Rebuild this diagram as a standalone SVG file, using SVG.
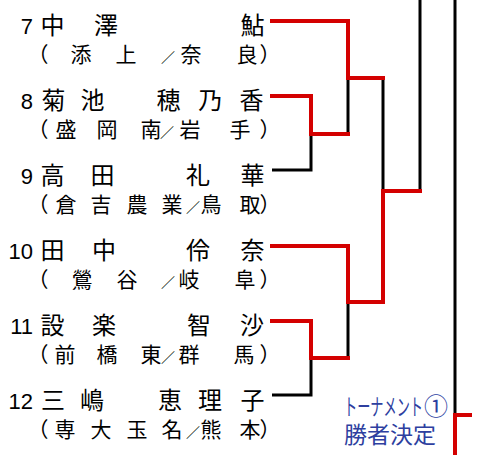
<svg xmlns="http://www.w3.org/2000/svg" width="480" height="455" viewBox="0 0 480 455">
<style>
.num{font-family:"Liberation Sans",Arial,sans-serif;font-size:22px;fill:#000;text-anchor:end}
.nm{font-family:"Noto Sans CJK JP","Noto Sans CJK SC",sans-serif;font-size:24px;fill:#000;text-anchor:middle}
.sc{font-family:"Noto Sans CJK JP","Noto Sans CJK SC",sans-serif;font-size:21px;fill:#000;text-anchor:middle}
.sl{font-size:14px}
.note{font-family:"Noto Sans CJK JP","Noto Sans CJK SC",sans-serif;font-size:23px;fill:#2e3f9f}
.w{fill:none;stroke:#d40000;stroke-width:4;stroke-linejoin:miter;stroke-linecap:square}
.l{fill:none;stroke:#000;stroke-width:3;stroke-linecap:butt}
</style>
<rect width="480" height="455" fill="#fff"/>
<g id="connectors">
<path class="l" d="M420,0 V191"/>
<path class="l" d="M455,0 V415"/>
<path class="l" d="M383,78 V191"/>
<path class="l" d="M348,78 V134"/>
<path class="l" d="M272,170 H311 V134"/>
<path class="l" d="M348,302 V358"/>
<path class="l" d="M272,395 H311 V358"/>
<path class="w" d="M272,21 H348 V78 H383"/>
<path class="w" d="M272,96 H311 V134 H348"/>
<path class="w" d="M272,246 H348 V302 H383 V191 H420"/>
<path class="w" d="M272,321 H311 V358 H348"/>
<path class="w" d="M455,455 V415 H470"/>
</g>
<g id="p7">
<text class="num" x="33" y="34">7</text>
<text class="nm" x="52.5 106 252.5" y="34">中澤鮎</text>
<text class="sc" x="38 81 126 168 191 247 270" y="62">（添上<tspan class="sl">／</tspan>奈良）</text>
</g>
<g id="p8">
<text class="num" x="33" y="109">8</text>
<text class="nm" x="53.5 92.5 168.5 210 251.5" y="109">菊池穂乃香</text>
<text class="sc" x="38 66 107 151 167 190 240 270" y="137">（盛岡南<tspan class="sl">／</tspan>岩手）</text>
</g>
<g id="p9">
<text class="num" x="33" y="184">9</text>
<text class="nm" x="52.5 102.5 198 252.5" y="184">高田礼華</text>
<text class="sc" x="38 66 101 137 172 193 211 250 270" y="212">（倉吉農業<tspan class="sl">／</tspan>鳥取）</text>
</g>
<g id="p10">
<text class="num" x="33" y="259">10</text>
<text class="nm" x="52.5 104 198 252.5" y="259">田中伶奈</text>
<text class="sc" x="38 82 127 168 189 245 270" y="287">（鶯谷<tspan class="sl">／</tspan>岐阜）</text>
</g>
<g id="p11">
<text class="num" x="33" y="334">11</text>
<text class="nm" x="52.5 104 199 252" y="334">設楽智沙</text>
<text class="sc" x="38 65 107 151 168 189 244 270" y="362">（前橋東<tspan class="sl">／</tspan>群馬）</text>
</g>
<g id="p12">
<text class="num" x="33" y="409">12</text>
<text class="nm" x="53 92 170 210 252.5" y="409">三嶋恵理子</text>
<text class="sc" x="38 65 101 137 172 193 211 250 270" y="437">（専大玉名<tspan class="sl">／</tspan>熊本）</text>
</g>
<g id="note">
<text class="note" x="344" y="415" font-size="13"><tspan font-size="23" textLength="79" lengthAdjust="spacingAndGlyphs">トーナメント</tspan><tspan x="424" font-size="24">①</tspan></text>
<text class="note" x="344" y="443" font-size="24">勝者決定</text>
</g>
</svg>
